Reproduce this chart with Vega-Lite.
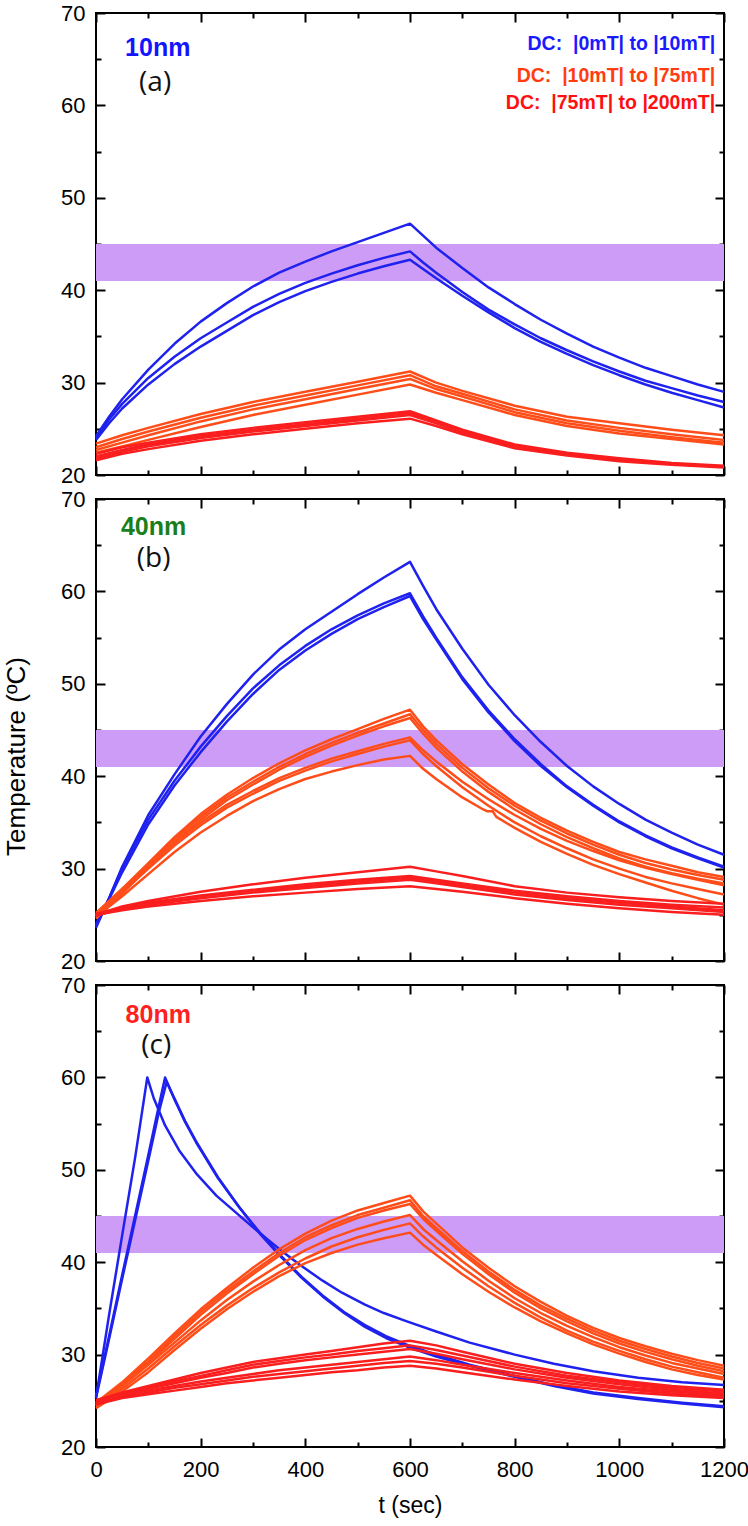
{
"$schema": "https://vega.github.io/schema/vega-lite/v6.json",
"autosize": {"type": "pad"},
"padding": {"left": 2, "top": 1, "right": 4, "bottom": 4},
"background": "white",
"config": {
 "view": {"stroke": "#000", "strokeWidth": 2},
 "axis": {"domain": false, "grid": false, "tickColor": "#000", "tickWidth": 2, "labelFont": "Liberation Sans", "labelFontSize": 22, "labelColor": "#000", "titleFont": "Liberation Sans", "titleFontSize": 22, "titleFontWeight": "normal", "titleColor": "#000", "labelFlush": false, "labelOverlap": false, "labelBound": false}
},
"datasets": {
"a_blue": [
{"run":1,"t":0,"T":24.2},{"run":1,"t":25,"T":26.3},{"run":1,"t":50,"T":28.2},{"run":1,"t":100,"T":31.4},{"run":1,"t":150,"T":34.2},{"run":1,"t":200,"T":36.6},{"run":1,"t":250,"T":38.6},{"run":1,"t":300,"T":40.4},{"run":1,"t":350,"T":41.9},{"run":1,"t":400,"T":43.1},{"run":1,"t":450,"T":44.2},{"run":1,"t":500,"T":45.2},{"run":1,"t":550,"T":46.2},{"run":1,"t":600,"T":47.2},{"run":1,"t":625,"T":45.9},{"run":1,"t":650,"T":44.6},{"run":1,"t":700,"T":42.4},{"run":1,"t":750,"T":40.3},{"run":1,"t":800,"T":38.5},{"run":1,"t":850,"T":36.8},{"run":1,"t":900,"T":35.3},{"run":1,"t":950,"T":33.9},{"run":1,"t":1000,"T":32.7},{"run":1,"t":1050,"T":31.6},{"run":1,"t":1100,"T":30.7},{"run":1,"t":1150,"T":29.8},{"run":1,"t":1200,"T":29.0},
{"run":2,"t":0,"T":24.0},{"run":2,"t":25,"T":26.0},{"run":2,"t":50,"T":27.7},{"run":2,"t":100,"T":30.5},{"run":2,"t":150,"T":32.8},{"run":2,"t":200,"T":34.8},{"run":2,"t":250,"T":36.5},{"run":2,"t":300,"T":38.2},{"run":2,"t":350,"T":39.6},{"run":2,"t":400,"T":40.8},{"run":2,"t":450,"T":41.8},{"run":2,"t":500,"T":42.7},{"run":2,"t":550,"T":43.5},{"run":2,"t":600,"T":44.2},{"run":2,"t":625,"T":43.0},{"run":2,"t":650,"T":41.9},{"run":2,"t":700,"T":39.8},{"run":2,"t":750,"T":37.9},{"run":2,"t":800,"T":36.3},{"run":2,"t":850,"T":34.8},{"run":2,"t":900,"T":33.5},{"run":2,"t":950,"T":32.3},{"run":2,"t":1000,"T":31.2},{"run":2,"t":1050,"T":30.2},{"run":2,"t":1100,"T":29.4},{"run":2,"t":1150,"T":28.6},{"run":2,"t":1200,"T":27.9},
{"run":3,"t":0,"T":23.8},{"run":3,"t":25,"T":25.6},{"run":3,"t":50,"T":27.2},{"run":3,"t":100,"T":29.8},{"run":3,"t":150,"T":32.0},{"run":3,"t":200,"T":33.9},{"run":3,"t":250,"T":35.6},{"run":3,"t":300,"T":37.3},{"run":3,"t":350,"T":38.7},{"run":3,"t":400,"T":39.9},{"run":3,"t":450,"T":40.9},{"run":3,"t":500,"T":41.8},{"run":3,"t":550,"T":42.6},{"run":3,"t":600,"T":43.3},{"run":3,"t":625,"T":42.3},{"run":3,"t":650,"T":41.3},{"run":3,"t":700,"T":39.4},{"run":3,"t":750,"T":37.6},{"run":3,"t":800,"T":35.9},{"run":3,"t":850,"T":34.4},{"run":3,"t":900,"T":33.1},{"run":3,"t":950,"T":31.9},{"run":3,"t":1000,"T":30.8},{"run":3,"t":1050,"T":29.8},{"run":3,"t":1100,"T":28.9},{"run":3,"t":1150,"T":28.1},{"run":3,"t":1200,"T":27.3}
],
"a_orange": [
{"run":1,"t":0,"T":23.4},{"run":1,"t":50,"T":24.3},{"run":1,"t":100,"T":25.1},{"run":1,"t":200,"T":26.6},{"run":1,"t":300,"T":27.9},{"run":1,"t":400,"T":29.0},{"run":1,"t":500,"T":30.1},{"run":1,"t":600,"T":31.2},{"run":1,"t":650,"T":30.0},{"run":1,"t":700,"T":29.1},{"run":1,"t":800,"T":27.5},{"run":1,"t":900,"T":26.3},{"run":1,"t":1000,"T":25.6},{"run":1,"t":1100,"T":24.9},{"run":1,"t":1200,"T":24.3},
{"run":2,"t":0,"T":23.0},{"run":2,"t":50,"T":23.9},{"run":2,"t":100,"T":24.7},{"run":2,"t":200,"T":26.2},{"run":2,"t":300,"T":27.5},{"run":2,"t":400,"T":28.6},{"run":2,"t":500,"T":29.7},{"run":2,"t":600,"T":30.8},{"run":2,"t":650,"T":29.6},{"run":2,"t":700,"T":28.8},{"run":2,"t":800,"T":27.1},{"run":2,"t":900,"T":25.9},{"run":2,"t":1000,"T":25.1},{"run":2,"t":1100,"T":24.4},{"run":2,"t":1200,"T":23.8},
{"run":3,"t":0,"T":22.7},{"run":3,"t":50,"T":23.5},{"run":3,"t":100,"T":24.3},{"run":3,"t":200,"T":25.8},{"run":3,"t":300,"T":27.1},{"run":3,"t":400,"T":28.2},{"run":3,"t":500,"T":29.3},{"run":3,"t":600,"T":30.4},{"run":3,"t":650,"T":29.3},{"run":3,"t":700,"T":28.5},{"run":3,"t":800,"T":26.8},{"run":3,"t":900,"T":25.6},{"run":3,"t":1000,"T":24.8},{"run":3,"t":1100,"T":24.1},{"run":3,"t":1200,"T":23.5},
{"run":4,"t":0,"T":22.4},{"run":4,"t":50,"T":23.1},{"run":4,"t":100,"T":23.8},{"run":4,"t":200,"T":25.2},{"run":4,"t":300,"T":26.5},{"run":4,"t":400,"T":27.6},{"run":4,"t":500,"T":28.7},{"run":4,"t":600,"T":29.8},{"run":4,"t":650,"T":28.9},{"run":4,"t":700,"T":28.1},{"run":4,"t":800,"T":26.5},{"run":4,"t":900,"T":25.3},{"run":4,"t":1000,"T":24.5},{"run":4,"t":1100,"T":23.9},{"run":4,"t":1200,"T":23.3}
],
"a_red": [
{"run":1,"t":0,"T":22.3},{"run":1,"t":50,"T":23.0},{"run":1,"t":100,"T":23.5},{"run":1,"t":200,"T":24.4},{"run":1,"t":300,"T":25.1},{"run":1,"t":400,"T":25.7},{"run":1,"t":500,"T":26.3},{"run":1,"t":600,"T":26.9},{"run":1,"t":650,"T":25.9},{"run":1,"t":700,"T":24.9},{"run":1,"t":800,"T":23.3},{"run":1,"t":900,"T":22.4},{"run":1,"t":1000,"T":21.8},{"run":1,"t":1100,"T":21.3},{"run":1,"t":1200,"T":21.0},
{"run":2,"t":0,"T":22.0},{"run":2,"t":50,"T":22.7},{"run":2,"t":100,"T":23.3},{"run":2,"t":200,"T":24.2},{"run":2,"t":300,"T":24.9},{"run":2,"t":400,"T":25.5},{"run":2,"t":500,"T":26.1},{"run":2,"t":600,"T":26.7},{"run":2,"t":650,"T":25.8},{"run":2,"t":700,"T":24.8},{"run":2,"t":800,"T":23.2},{"run":2,"t":900,"T":22.3},{"run":2,"t":1000,"T":21.7},{"run":2,"t":1100,"T":21.2},{"run":2,"t":1200,"T":20.9},
{"run":3,"t":0,"T":21.8},{"run":3,"t":50,"T":22.5},{"run":3,"t":100,"T":23.1},{"run":3,"t":200,"T":24.0},{"run":3,"t":300,"T":24.7},{"run":3,"t":400,"T":25.3},{"run":3,"t":500,"T":25.9},{"run":3,"t":600,"T":26.5},{"run":3,"t":650,"T":25.6},{"run":3,"t":700,"T":24.6},{"run":3,"t":800,"T":23.1},{"run":3,"t":900,"T":22.2},{"run":3,"t":1000,"T":21.6},{"run":3,"t":1100,"T":21.2},{"run":3,"t":1200,"T":20.9},
{"run":4,"t":0,"T":21.6},{"run":4,"t":50,"T":22.3},{"run":4,"t":100,"T":22.8},{"run":4,"t":200,"T":23.7},{"run":4,"t":300,"T":24.4},{"run":4,"t":400,"T":25.0},{"run":4,"t":500,"T":25.6},{"run":4,"t":600,"T":26.1},{"run":4,"t":650,"T":25.3},{"run":4,"t":700,"T":24.4},{"run":4,"t":800,"T":22.9},{"run":4,"t":900,"T":22.1},{"run":4,"t":1000,"T":21.5},{"run":4,"t":1100,"T":21.1},{"run":4,"t":1200,"T":20.8}
],
"b_blue": [
{"run":1,"t":0,"T":23.6},{"run":1,"t":25,"T":26.8},{"run":1,"t":50,"T":30.2},{"run":1,"t":100,"T":35.8},{"run":1,"t":150,"T":40.2},{"run":1,"t":200,"T":44.3},{"run":1,"t":250,"T":47.8},{"run":1,"t":300,"T":51.0},{"run":1,"t":350,"T":53.7},{"run":1,"t":400,"T":55.9},{"run":1,"t":450,"T":57.8},{"run":1,"t":500,"T":59.7},{"run":1,"t":550,"T":61.5},{"run":1,"t":600,"T":63.2},{"run":1,"t":625,"T":60.6},{"run":1,"t":650,"T":58.1},{"run":1,"t":700,"T":53.8},{"run":1,"t":750,"T":49.9},{"run":1,"t":800,"T":46.6},{"run":1,"t":850,"T":43.7},{"run":1,"t":900,"T":41.1},{"run":1,"t":950,"T":38.9},{"run":1,"t":1000,"T":37.0},{"run":1,"t":1050,"T":35.3},{"run":1,"t":1100,"T":33.9},{"run":1,"t":1150,"T":32.6},{"run":1,"t":1200,"T":31.5},
{"run":2,"t":0,"T":23.8},{"run":2,"t":25,"T":26.8},{"run":2,"t":50,"T":30.0},{"run":2,"t":100,"T":35.3},{"run":2,"t":150,"T":39.5},{"run":2,"t":200,"T":43.2},{"run":2,"t":250,"T":46.5},{"run":2,"t":300,"T":49.5},{"run":2,"t":350,"T":52.0},{"run":2,"t":400,"T":54.1},{"run":2,"t":450,"T":55.9},{"run":2,"t":500,"T":57.4},{"run":2,"t":550,"T":58.7},{"run":2,"t":600,"T":59.8},{"run":2,"t":625,"T":57.3},{"run":2,"t":650,"T":55.0},{"run":2,"t":700,"T":50.7},{"run":2,"t":750,"T":47.1},{"run":2,"t":800,"T":44.0},{"run":2,"t":850,"T":41.3},{"run":2,"t":900,"T":38.9},{"run":2,"t":950,"T":36.9},{"run":2,"t":1000,"T":35.1},{"run":2,"t":1050,"T":33.6},{"run":2,"t":1100,"T":32.3},{"run":2,"t":1150,"T":31.2},{"run":2,"t":1200,"T":30.2},
{"run":3,"t":0,"T":24.0},{"run":3,"t":25,"T":26.7},{"run":3,"t":50,"T":29.6},{"run":3,"t":100,"T":34.8},{"run":3,"t":150,"T":39.0},{"run":3,"t":200,"T":42.6},{"run":3,"t":250,"T":45.9},{"run":3,"t":300,"T":48.9},{"run":3,"t":350,"T":51.5},{"run":3,"t":400,"T":53.6},{"run":3,"t":450,"T":55.4},{"run":3,"t":500,"T":57.0},{"run":3,"t":550,"T":58.3},{"run":3,"t":600,"T":59.5},{"run":3,"t":625,"T":57.0},{"run":3,"t":650,"T":54.8},{"run":3,"t":700,"T":50.5},{"run":3,"t":750,"T":46.9},{"run":3,"t":800,"T":43.8},{"run":3,"t":850,"T":41.1},{"run":3,"t":900,"T":38.8},{"run":3,"t":950,"T":36.8},{"run":3,"t":1000,"T":35.0},{"run":3,"t":1050,"T":33.5},{"run":3,"t":1100,"T":32.2},{"run":3,"t":1150,"T":31.1},{"run":3,"t":1200,"T":30.1}
],
"b_orange": [
{"run":1,"t":0,"T":25.0},{"run":1,"t":50,"T":27.8},{"run":1,"t":100,"T":30.6},{"run":1,"t":150,"T":33.4},{"run":1,"t":200,"T":35.9},{"run":1,"t":250,"T":38.0},{"run":1,"t":300,"T":39.8},{"run":1,"t":350,"T":41.4},{"run":1,"t":400,"T":42.8},{"run":1,"t":450,"T":44.0},{"run":1,"t":500,"T":45.1},{"run":1,"t":550,"T":46.2},{"run":1,"t":600,"T":47.2},{"run":1,"t":625,"T":45.4},{"run":1,"t":650,"T":43.9},{"run":1,"t":700,"T":41.3},{"run":1,"t":750,"T":39.1},{"run":1,"t":800,"T":37.1},{"run":1,"t":850,"T":35.5},{"run":1,"t":900,"T":34.1},{"run":1,"t":950,"T":32.9},{"run":1,"t":1000,"T":31.8},{"run":1,"t":1050,"T":31.0},{"run":1,"t":1100,"T":30.3},{"run":1,"t":1150,"T":29.6},{"run":1,"t":1200,"T":29.1},
{"run":2,"t":0,"T":24.8},{"run":2,"t":50,"T":27.6},{"run":2,"t":100,"T":30.4},{"run":2,"t":150,"T":33.2},{"run":2,"t":200,"T":35.6},{"run":2,"t":250,"T":37.7},{"run":2,"t":300,"T":39.4},{"run":2,"t":350,"T":41.0},{"run":2,"t":400,"T":42.4},{"run":2,"t":450,"T":43.6},{"run":2,"t":500,"T":44.7},{"run":2,"t":550,"T":45.7},{"run":2,"t":600,"T":46.7},{"run":2,"t":625,"T":45.0},{"run":2,"t":650,"T":43.5},{"run":2,"t":700,"T":40.9},{"run":2,"t":750,"T":38.7},{"run":2,"t":800,"T":36.8},{"run":2,"t":850,"T":35.2},{"run":2,"t":900,"T":33.8},{"run":2,"t":950,"T":32.6},{"run":2,"t":1000,"T":31.5},{"run":2,"t":1050,"T":30.6},{"run":2,"t":1100,"T":29.9},{"run":2,"t":1150,"T":29.3},{"run":2,"t":1200,"T":28.8},
{"run":3,"t":0,"T":24.6},{"run":3,"t":50,"T":27.3},{"run":3,"t":100,"T":30.1},{"run":3,"t":150,"T":32.9},{"run":3,"t":200,"T":35.3},{"run":3,"t":250,"T":37.4},{"run":3,"t":300,"T":39.1},{"run":3,"t":350,"T":40.7},{"run":3,"t":400,"T":42.1},{"run":3,"t":450,"T":43.3},{"run":3,"t":500,"T":44.4},{"run":3,"t":550,"T":45.4},{"run":3,"t":600,"T":46.3},{"run":3,"t":625,"T":44.6},{"run":3,"t":650,"T":43.1},{"run":3,"t":700,"T":40.5},{"run":3,"t":750,"T":38.3},{"run":3,"t":800,"T":36.4},{"run":3,"t":850,"T":34.8},{"run":3,"t":900,"T":33.4},{"run":3,"t":950,"T":32.2},{"run":3,"t":1000,"T":31.1},{"run":3,"t":1050,"T":30.2},{"run":3,"t":1100,"T":29.5},{"run":3,"t":1150,"T":28.9},{"run":3,"t":1200,"T":28.4},
{"run":4,"t":0,"T":25.2},{"run":4,"t":50,"T":27.8},{"run":4,"t":100,"T":30.3},{"run":4,"t":150,"T":32.8},{"run":4,"t":200,"T":35.0},{"run":4,"t":250,"T":36.9},{"run":4,"t":300,"T":38.4},{"run":4,"t":350,"T":39.8},{"run":4,"t":400,"T":40.9},{"run":4,"t":450,"T":41.9},{"run":4,"t":500,"T":42.7},{"run":4,"t":550,"T":43.5},{"run":4,"t":600,"T":44.2},{"run":4,"t":625,"T":42.8},{"run":4,"t":650,"T":41.6},{"run":4,"t":700,"T":39.4},{"run":4,"t":750,"T":37.5},{"run":4,"t":800,"T":35.8},{"run":4,"t":850,"T":34.3},{"run":4,"t":900,"T":33.0},{"run":4,"t":950,"T":31.9},{"run":4,"t":1000,"T":30.9},{"run":4,"t":1050,"T":30.1},{"run":4,"t":1100,"T":29.4},{"run":4,"t":1150,"T":28.8},{"run":4,"t":1200,"T":28.2},
{"run":5,"t":0,"T":25.0},{"run":5,"t":50,"T":27.5},{"run":5,"t":100,"T":30.0},{"run":5,"t":150,"T":32.5},{"run":5,"t":200,"T":34.7},{"run":5,"t":250,"T":36.6},{"run":5,"t":300,"T":38.1},{"run":5,"t":350,"T":39.5},{"run":5,"t":400,"T":40.6},{"run":5,"t":450,"T":41.6},{"run":5,"t":500,"T":42.4},{"run":5,"t":550,"T":43.2},{"run":5,"t":600,"T":43.9},{"run":5,"t":625,"T":42.4},{"run":5,"t":650,"T":41.1},{"run":5,"t":700,"T":38.8},{"run":5,"t":750,"T":36.8},{"run":5,"t":800,"T":35.0},{"run":5,"t":850,"T":33.5},{"run":5,"t":900,"T":32.2},{"run":5,"t":950,"T":31.0},{"run":5,"t":1000,"T":30.0},{"run":5,"t":1050,"T":29.1},{"run":5,"t":1100,"T":28.4},{"run":5,"t":1150,"T":27.8},{"run":5,"t":1200,"T":27.2},
{"run":6,"t":0,"T":24.8},{"run":6,"t":50,"T":27.0},{"run":6,"t":100,"T":29.4},{"run":6,"t":150,"T":31.8},{"run":6,"t":200,"T":33.9},{"run":6,"t":250,"T":35.7},{"run":6,"t":300,"T":37.3},{"run":6,"t":350,"T":38.6},{"run":6,"t":400,"T":39.7},{"run":6,"t":450,"T":40.5},{"run":6,"t":500,"T":41.2},{"run":6,"t":550,"T":41.8},{"run":6,"t":600,"T":42.2},{"run":6,"t":625,"T":40.8},{"run":6,"t":650,"T":39.7},{"run":6,"t":700,"T":37.7},{"run":6,"t":740,"T":36.4},{"run":6,"t":748,"T":36.2},{"run":6,"t":758,"T":36.2},{"run":6,"t":765,"T":35.6},{"run":6,"t":800,"T":34.4},{"run":6,"t":850,"T":32.9},{"run":6,"t":900,"T":31.6},{"run":6,"t":950,"T":30.4},{"run":6,"t":1000,"T":29.4},{"run":6,"t":1050,"T":28.5},{"run":6,"t":1100,"T":27.6},{"run":6,"t":1150,"T":26.8},{"run":6,"t":1200,"T":26.1}
],
"b_red": [
{"run":1,"t":0,"T":25.0},{"run":1,"t":50,"T":25.9},{"run":1,"t":100,"T":26.5},{"run":1,"t":200,"T":27.5},{"run":1,"t":300,"T":28.3},{"run":1,"t":400,"T":29.0},{"run":1,"t":500,"T":29.6},{"run":1,"t":600,"T":30.2},{"run":1,"t":650,"T":29.7},{"run":1,"t":700,"T":29.2},{"run":1,"t":800,"T":28.1},{"run":1,"t":900,"T":27.4},{"run":1,"t":1000,"T":26.9},{"run":1,"t":1100,"T":26.5},{"run":1,"t":1200,"T":26.2},
{"run":2,"t":0,"T":25.1},{"run":2,"t":50,"T":25.8},{"run":2,"t":100,"T":26.3},{"run":2,"t":200,"T":27.1},{"run":2,"t":300,"T":27.7},{"run":2,"t":400,"T":28.3},{"run":2,"t":500,"T":28.8},{"run":2,"t":600,"T":29.2},{"run":2,"t":650,"T":28.8},{"run":2,"t":700,"T":28.4},{"run":2,"t":800,"T":27.6},{"run":2,"t":900,"T":27.0},{"run":2,"t":1000,"T":26.5},{"run":2,"t":1100,"T":26.1},{"run":2,"t":1200,"T":25.8},
{"run":3,"t":0,"T":24.9},{"run":3,"t":50,"T":25.7},{"run":3,"t":100,"T":26.2},{"run":3,"t":200,"T":27.0},{"run":3,"t":300,"T":27.6},{"run":3,"t":400,"T":28.1},{"run":3,"t":500,"T":28.6},{"run":3,"t":600,"T":29.0},{"run":3,"t":650,"T":28.6},{"run":3,"t":700,"T":28.2},{"run":3,"t":800,"T":27.4},{"run":3,"t":900,"T":26.8},{"run":3,"t":1000,"T":26.3},{"run":3,"t":1100,"T":25.9},{"run":3,"t":1200,"T":25.5},
{"run":4,"t":0,"T":25.0},{"run":4,"t":50,"T":25.6},{"run":4,"t":100,"T":26.1},{"run":4,"t":200,"T":26.8},{"run":4,"t":300,"T":27.4},{"run":4,"t":400,"T":27.9},{"run":4,"t":500,"T":28.4},{"run":4,"t":600,"T":28.8},{"run":4,"t":650,"T":28.4},{"run":4,"t":700,"T":28.0},{"run":4,"t":800,"T":27.2},{"run":4,"t":900,"T":26.6},{"run":4,"t":1000,"T":26.1},{"run":4,"t":1100,"T":25.7},{"run":4,"t":1200,"T":25.3},
{"run":5,"t":0,"T":25.0},{"run":5,"t":50,"T":25.5},{"run":5,"t":100,"T":25.9},{"run":5,"t":200,"T":26.5},{"run":5,"t":300,"T":27.0},{"run":5,"t":400,"T":27.4},{"run":5,"t":500,"T":27.8},{"run":5,"t":600,"T":28.1},{"run":5,"t":650,"T":27.8},{"run":5,"t":700,"T":27.5},{"run":5,"t":800,"T":26.8},{"run":5,"t":900,"T":26.2},{"run":5,"t":1000,"T":25.7},{"run":5,"t":1100,"T":25.3},{"run":5,"t":1200,"T":25.0}
],
"c_blue": [
{"run":1,"t":0,"T":25.3},{"run":1,"t":25,"T":34.3},{"run":1,"t":50,"T":42.9},{"run":1,"t":75,"T":51.4},{"run":1,"t":98,"T":60.0},{"run":1,"t":110,"T":57.8},{"run":1,"t":132,"T":54.8},{"run":1,"t":160,"T":52.0},{"run":1,"t":193,"T":49.5},{"run":1,"t":230,"T":47.2},{"run":1,"t":273,"T":45.1},{"run":1,"t":310,"T":43.3},{"run":1,"t":353,"T":41.3},{"run":1,"t":390,"T":39.7},{"run":1,"t":433,"T":38.0},{"run":1,"t":470,"T":36.7},{"run":1,"t":514,"T":35.4},{"run":1,"t":550,"T":34.5},{"run":1,"t":594,"T":33.6},{"run":1,"t":650,"T":32.5},{"run":1,"t":714,"T":31.3},{"run":1,"t":800,"T":30.0},{"run":1,"t":875,"T":29.0},{"run":1,"t":950,"T":28.2},{"run":1,"t":1036,"T":27.5},{"run":1,"t":1120,"T":27.0},{"run":1,"t":1200,"T":26.7},
{"run":2,"t":0,"T":25.5},{"run":2,"t":25,"T":32.0},{"run":2,"t":50,"T":38.6},{"run":2,"t":75,"T":45.1},{"run":2,"t":100,"T":51.6},{"run":2,"t":120,"T":56.9},{"run":2,"t":132,"T":60.0},{"run":2,"t":150,"T":57.6},{"run":2,"t":170,"T":55.2},{"run":2,"t":193,"T":52.8},{"run":2,"t":233,"T":49.1},{"run":2,"t":273,"T":46.0},{"run":2,"t":313,"T":43.2},{"run":2,"t":353,"T":40.7},{"run":2,"t":393,"T":38.4},{"run":2,"t":433,"T":36.4},{"run":2,"t":474,"T":34.6},{"run":2,"t":514,"T":33.2},{"run":2,"t":554,"T":32.0},{"run":2,"t":602,"T":30.9},{"run":2,"t":650,"T":30.0},{"run":2,"t":714,"T":28.9},{"run":2,"t":800,"T":27.7},{"run":2,"t":875,"T":26.7},{"run":2,"t":950,"T":25.9},{"run":2,"t":1036,"T":25.3},{"run":2,"t":1120,"T":24.8},{"run":2,"t":1200,"T":24.4},
{"run":3,"t":0,"T":25.3},{"run":3,"t":25,"T":31.7},{"run":3,"t":50,"T":38.2},{"run":3,"t":75,"T":44.6},{"run":3,"t":100,"T":51.0},{"run":3,"t":120,"T":56.2},{"run":3,"t":135,"T":59.5},{"run":3,"t":150,"T":57.7},{"run":3,"t":170,"T":55.3},{"run":3,"t":193,"T":52.9},{"run":3,"t":233,"T":49.2},{"run":3,"t":273,"T":46.0},{"run":3,"t":313,"T":43.1},{"run":3,"t":353,"T":40.6},{"run":3,"t":393,"T":38.3},{"run":3,"t":433,"T":36.3},{"run":3,"t":474,"T":34.5},{"run":3,"t":514,"T":33.0},{"run":3,"t":554,"T":31.8},{"run":3,"t":602,"T":30.7},{"run":3,"t":650,"T":29.8},{"run":3,"t":714,"T":28.8},{"run":3,"t":800,"T":27.6},{"run":3,"t":875,"T":26.6},{"run":3,"t":950,"T":25.8},{"run":3,"t":1036,"T":25.2},{"run":3,"t":1120,"T":24.7},{"run":3,"t":1200,"T":24.3}
],
"c_orange": [
{"run":1,"t":0,"T":24.8},{"run":1,"t":50,"T":27.0},{"run":1,"t":100,"T":29.6},{"run":1,"t":150,"T":32.3},{"run":1,"t":200,"T":34.9},{"run":1,"t":250,"T":37.2},{"run":1,"t":300,"T":39.4},{"run":1,"t":350,"T":41.4},{"run":1,"t":400,"T":43.1},{"run":1,"t":450,"T":44.5},{"run":1,"t":500,"T":45.6},{"run":1,"t":550,"T":46.4},{"run":1,"t":600,"T":47.2},{"run":1,"t":625,"T":45.5},{"run":1,"t":650,"T":44.2},{"run":1,"t":700,"T":41.6},{"run":1,"t":750,"T":39.4},{"run":1,"t":800,"T":37.4},{"run":1,"t":850,"T":35.7},{"run":1,"t":900,"T":34.2},{"run":1,"t":950,"T":32.9},{"run":1,"t":1000,"T":31.8},{"run":1,"t":1050,"T":30.9},{"run":1,"t":1100,"T":30.1},{"run":1,"t":1150,"T":29.4},{"run":1,"t":1200,"T":28.8},
{"run":2,"t":0,"T":24.6},{"run":2,"t":50,"T":26.8},{"run":2,"t":100,"T":29.3},{"run":2,"t":150,"T":32.0},{"run":2,"t":200,"T":34.6},{"run":2,"t":250,"T":36.9},{"run":2,"t":300,"T":39.0},{"run":2,"t":350,"T":41.0},{"run":2,"t":400,"T":42.7},{"run":2,"t":450,"T":44.0},{"run":2,"t":500,"T":45.1},{"run":2,"t":550,"T":45.9},{"run":2,"t":600,"T":46.7},{"run":2,"t":625,"T":45.0},{"run":2,"t":650,"T":43.7},{"run":2,"t":700,"T":41.2},{"run":2,"t":750,"T":39.0},{"run":2,"t":800,"T":37.0},{"run":2,"t":850,"T":35.3},{"run":2,"t":900,"T":33.9},{"run":2,"t":950,"T":32.6},{"run":2,"t":1000,"T":31.5},{"run":2,"t":1050,"T":30.6},{"run":2,"t":1100,"T":29.8},{"run":2,"t":1150,"T":29.1},{"run":2,"t":1200,"T":28.5},
{"run":3,"t":0,"T":24.5},{"run":3,"t":50,"T":26.6},{"run":3,"t":100,"T":29.1},{"run":3,"t":150,"T":31.7},{"run":3,"t":200,"T":34.3},{"run":3,"t":250,"T":36.6},{"run":3,"t":300,"T":38.7},{"run":3,"t":350,"T":40.7},{"run":3,"t":400,"T":42.4},{"run":3,"t":450,"T":43.7},{"run":3,"t":500,"T":44.8},{"run":3,"t":550,"T":45.6},{"run":3,"t":600,"T":46.3},{"run":3,"t":625,"T":44.7},{"run":3,"t":650,"T":43.4},{"run":3,"t":700,"T":40.9},{"run":3,"t":750,"T":38.7},{"run":3,"t":800,"T":36.7},{"run":3,"t":850,"T":35.0},{"run":3,"t":900,"T":33.6},{"run":3,"t":950,"T":32.3},{"run":3,"t":1000,"T":31.2},{"run":3,"t":1050,"T":30.3},{"run":3,"t":1100,"T":29.5},{"run":3,"t":1150,"T":28.8},{"run":3,"t":1200,"T":28.2},
{"run":4,"t":0,"T":24.7},{"run":4,"t":50,"T":26.6},{"run":4,"t":100,"T":28.9},{"run":4,"t":150,"T":31.3},{"run":4,"t":200,"T":33.7},{"run":4,"t":250,"T":35.9},{"run":4,"t":300,"T":37.9},{"run":4,"t":350,"T":39.7},{"run":4,"t":400,"T":41.3},{"run":4,"t":450,"T":42.6},{"run":4,"t":500,"T":43.6},{"run":4,"t":550,"T":44.4},{"run":4,"t":600,"T":45.1},{"run":4,"t":625,"T":43.6},{"run":4,"t":650,"T":42.4},{"run":4,"t":700,"T":40.1},{"run":4,"t":750,"T":38.0},{"run":4,"t":800,"T":36.1},{"run":4,"t":850,"T":34.5},{"run":4,"t":900,"T":33.1},{"run":4,"t":950,"T":31.9},{"run":4,"t":1000,"T":30.8},{"run":4,"t":1050,"T":29.9},{"run":4,"t":1100,"T":29.1},{"run":4,"t":1150,"T":28.5},{"run":4,"t":1200,"T":27.9},
{"run":5,"t":0,"T":24.4},{"run":5,"t":50,"T":26.3},{"run":5,"t":100,"T":28.5},{"run":5,"t":150,"T":30.9},{"run":5,"t":200,"T":33.2},{"run":5,"t":250,"T":35.3},{"run":5,"t":300,"T":37.2},{"run":5,"t":350,"T":38.9},{"run":5,"t":400,"T":40.4},{"run":5,"t":450,"T":41.7},{"run":5,"t":500,"T":42.7},{"run":5,"t":550,"T":43.5},{"run":5,"t":600,"T":44.2},{"run":5,"t":625,"T":42.8},{"run":5,"t":650,"T":41.6},{"run":5,"t":700,"T":39.4},{"run":5,"t":750,"T":37.4},{"run":5,"t":800,"T":35.6},{"run":5,"t":850,"T":34.0},{"run":5,"t":900,"T":32.6},{"run":5,"t":950,"T":31.4},{"run":5,"t":1000,"T":30.4},{"run":5,"t":1050,"T":29.5},{"run":5,"t":1100,"T":28.7},{"run":5,"t":1150,"T":28.1},{"run":5,"t":1200,"T":27.5},
{"run":6,"t":0,"T":24.2},{"run":6,"t":50,"T":26.0},{"run":6,"t":100,"T":28.1},{"run":6,"t":150,"T":30.5},{"run":6,"t":200,"T":32.8},{"run":6,"t":250,"T":34.9},{"run":6,"t":300,"T":36.8},{"run":6,"t":350,"T":38.5},{"run":6,"t":400,"T":39.9},{"run":6,"t":450,"T":41.0},{"run":6,"t":500,"T":41.9},{"run":6,"t":550,"T":42.6},{"run":6,"t":600,"T":43.2},{"run":6,"t":625,"T":41.9},{"run":6,"t":650,"T":40.8},{"run":6,"t":700,"T":38.7},{"run":6,"t":750,"T":36.8},{"run":6,"t":800,"T":35.1},{"run":6,"t":850,"T":33.6},{"run":6,"t":900,"T":32.3},{"run":6,"t":950,"T":31.1},{"run":6,"t":1000,"T":30.1},{"run":6,"t":1050,"T":29.2},{"run":6,"t":1100,"T":28.4},{"run":6,"t":1150,"T":27.8},{"run":6,"t":1200,"T":27.3}
],
"c_red": [
{"run":1,"t":0,"T":25.0},{"run":1,"t":50,"T":25.9},{"run":1,"t":100,"T":26.6},{"run":1,"t":150,"T":27.3},{"run":1,"t":200,"T":28.0},{"run":1,"t":250,"T":28.6},{"run":1,"t":300,"T":29.2},{"run":1,"t":350,"T":29.6},{"run":1,"t":400,"T":30.0},{"run":1,"t":450,"T":30.4},{"run":1,"t":500,"T":30.8},{"run":1,"t":550,"T":31.2},{"run":1,"t":600,"T":31.5},{"run":1,"t":650,"T":31.0},{"run":1,"t":700,"T":30.3},{"run":1,"t":800,"T":29.0},{"run":1,"t":900,"T":28.0},{"run":1,"t":1000,"T":27.2},{"run":1,"t":1100,"T":26.6},{"run":1,"t":1200,"T":26.2},
{"run":2,"t":0,"T":25.1},{"run":2,"t":50,"T":25.8},{"run":2,"t":100,"T":26.4},{"run":2,"t":150,"T":27.1},{"run":2,"t":200,"T":27.7},{"run":2,"t":250,"T":28.3},{"run":2,"t":300,"T":28.9},{"run":2,"t":350,"T":29.3},{"run":2,"t":400,"T":29.7},{"run":2,"t":450,"T":30.0},{"run":2,"t":500,"T":30.4},{"run":2,"t":550,"T":30.7},{"run":2,"t":600,"T":31.0},{"run":2,"t":650,"T":30.5},{"run":2,"t":700,"T":29.9},{"run":2,"t":800,"T":28.7},{"run":2,"t":900,"T":27.7},{"run":2,"t":1000,"T":27.0},{"run":2,"t":1100,"T":26.4},{"run":2,"t":1200,"T":26.0},
{"run":3,"t":0,"T":24.9},{"run":3,"t":50,"T":25.7},{"run":3,"t":100,"T":26.3},{"run":3,"t":150,"T":26.9},{"run":3,"t":200,"T":27.5},{"run":3,"t":250,"T":28.0},{"run":3,"t":300,"T":28.6},{"run":3,"t":350,"T":29.0},{"run":3,"t":400,"T":29.4},{"run":3,"t":450,"T":29.7},{"run":3,"t":500,"T":30.0},{"run":3,"t":550,"T":30.3},{"run":3,"t":600,"T":30.6},{"run":3,"t":650,"T":30.1},{"run":3,"t":700,"T":29.5},{"run":3,"t":800,"T":28.4},{"run":3,"t":900,"T":27.5},{"run":3,"t":1000,"T":26.8},{"run":3,"t":1100,"T":26.2},{"run":3,"t":1200,"T":25.8},
{"run":4,"t":0,"T":25.0},{"run":4,"t":50,"T":25.6},{"run":4,"t":100,"T":26.1},{"run":4,"t":150,"T":26.6},{"run":4,"t":200,"T":27.1},{"run":4,"t":250,"T":27.5},{"run":4,"t":300,"T":27.9},{"run":4,"t":350,"T":28.3},{"run":4,"t":400,"T":28.6},{"run":4,"t":450,"T":28.9},{"run":4,"t":500,"T":29.2},{"run":4,"t":550,"T":29.5},{"run":4,"t":600,"T":29.8},{"run":4,"t":650,"T":29.4},{"run":4,"t":700,"T":28.9},{"run":4,"t":800,"T":28.0},{"run":4,"t":900,"T":27.2},{"run":4,"t":1000,"T":26.5},{"run":4,"t":1100,"T":26.0},{"run":4,"t":1200,"T":25.6},
{"run":5,"t":0,"T":24.8},{"run":5,"t":50,"T":25.4},{"run":5,"t":100,"T":25.9},{"run":5,"t":150,"T":26.4},{"run":5,"t":200,"T":26.8},{"run":5,"t":250,"T":27.2},{"run":5,"t":300,"T":27.6},{"run":5,"t":350,"T":27.9},{"run":5,"t":400,"T":28.2},{"run":5,"t":450,"T":28.5},{"run":5,"t":500,"T":28.8},{"run":5,"t":550,"T":29.1},{"run":5,"t":600,"T":29.3},{"run":5,"t":650,"T":29.0},{"run":5,"t":700,"T":28.6},{"run":5,"t":800,"T":27.7},{"run":5,"t":900,"T":26.9},{"run":5,"t":1000,"T":26.3},{"run":5,"t":1100,"T":25.8},{"run":5,"t":1200,"T":25.4},
{"run":6,"t":0,"T":24.6},{"run":6,"t":50,"T":25.3},{"run":6,"t":100,"T":25.7},{"run":6,"t":150,"T":26.1},{"run":6,"t":200,"T":26.5},{"run":6,"t":250,"T":26.9},{"run":6,"t":300,"T":27.2},{"run":6,"t":350,"T":27.5},{"run":6,"t":400,"T":27.8},{"run":6,"t":450,"T":28.1},{"run":6,"t":500,"T":28.3},{"run":6,"t":550,"T":28.6},{"run":6,"t":600,"T":28.8},{"run":6,"t":650,"T":28.5},{"run":6,"t":700,"T":28.1},{"run":6,"t":800,"T":27.3},{"run":6,"t":900,"T":26.6},{"run":6,"t":1000,"T":26.0},{"run":6,"t":1100,"T":25.6},{"run":6,"t":1200,"T":25.3}
]
},
"vconcat": [
{
 "width": 628, "height": 462,
 "resolve": {"axis": {"x": "independent", "y": "independent"}},
 "layer": [
  {"data": {"values": [{"lo": 41, "hi": 45}]}, "mark": {"type": "rect", "fill": "#cd9cf7"},
   "encoding": {"x": {"datum": 0, "type": "quantitative", "axis": null}, "x2": {"datum": 1200}, "y": {"field": "lo", "type": "quantitative", "axis": null}, "y2": {"field": "hi"}}},
  {"data": {"name": "a_blue"}, "mark": {"type": "line", "color": "#1f22ee", "strokeWidth": 2.5, "strokeJoin": "round"},
   "encoding": {
    "x": {"field": "t", "type": "quantitative", "scale": {"domain": [0, 1200], "nice": false, "zero": false},
      "axis": {"orient": "bottom", "values": [0,200,400,600,800,1000,1200], "labels": false, "title": null, "tickSize": -9}},
    "y": {"field": "T", "type": "quantitative", "scale": {"domain": [20, 70], "nice": false, "zero": false},
      "axis": {"orient": "left", "values": [20,30,40,50,60,70], "labelPadding": 20, "title": null, "tickSize": -9}},
    "detail": {"field": "run", "type": "nominal"}}},
  {"data": {"name": "a_orange"}, "mark": {"type": "line", "color": "#ff4d1a", "strokeWidth": 2.5, "strokeJoin": "round"},
   "encoding": {
    "x": {"field": "t", "type": "quantitative", "axis": {"orient": "top", "values": [0,200,400,600,800,1000,1200], "labels": false, "title": null, "tickSize": -9}},
    "y": {"field": "T", "type": "quantitative", "axis": {"orient": "right", "values": [20,30,40,50,60,70], "labels": false, "title": null, "tickSize": -9}},
    "detail": {"field": "run", "type": "nominal"}}},
  {"data": {"name": "a_red"}, "mark": {"type": "line", "color": "#fa1e1e", "strokeWidth": 2.5, "strokeJoin": "round"},
   "encoding": {
    "x": {"field": "t", "type": "quantitative", "axis": {"orient": "bottom", "values": [100,300,500,700,900,1100], "labels": false, "title": null, "tickSize": -5}},
    "y": {"field": "T", "type": "quantitative", "axis": {"orient": "left", "values": [25,35,45,55,65], "labels": false, "title": null, "tickSize": -5}},
    "detail": {"field": "run", "type": "nominal"}}},
  {"data": {"values": [{"label": "10nm", "t": 118, "T": 66.2}]}, "mark": {"type": "text", "font": "Liberation Sans", "fontWeight": "bold", "fontSize": 25, "color": "#1414ff", "align": "center", "baseline": "middle"},
   "encoding": {
    "x": {"field": "t", "type": "quantitative", "axis": {"orient": "top", "values": [100,300,500,700,900,1100], "labels": false, "title": null, "tickSize": -5}},
    "y": {"field": "T", "type": "quantitative", "axis": {"orient": "right", "values": [25,35,45,55,65], "labels": false, "title": null, "tickSize": -5}},
    "text": {"field": "label"}}},
  {"data": {"values": [{"label": "(a)", "t": 113, "T": 62.4}]}, "mark": {"type": "text", "font": "Open Sans", "fontSize": 28, "color": "#111", "align": "center", "baseline": "middle"},
   "encoding": {"x": {"field": "t", "type": "quantitative", "axis": null}, "y": {"field": "T", "type": "quantitative", "axis": null}, "text": {"field": "label"}}},
  {"data": {"values": [{"label": "DC:\u00a0 |0mT| to |10mT|", "g": "b", "t": 1183, "T": 66.6}, {"label": "DC:\u00a0 |10mT| to |75mT|", "g": "o", "t": 1183, "T": 63.2}, {"label": "DC:\u00a0 |75mT| to |200mT|", "g": "r", "t": 1183, "T": 60.3}]},
   "mark": {"type": "text", "font": "Liberation Sans", "fontWeight": "bold", "fontSize": 19.5, "align": "right", "baseline": "middle"},
   "encoding": {"x": {"field": "t", "type": "quantitative", "axis": null}, "y": {"field": "T", "type": "quantitative", "axis": null}, "text": {"field": "label"},
    "color": {"field": "g", "type": "nominal", "scale": {"domain": ["b", "o", "r"], "range": ["#1a1aff", "#ff3d0f", "#ff1010"]}, "legend": null}}}
 ]
},
{
 "width": 628, "height": 462,
 "resolve": {"axis": {"x": "independent", "y": "independent"}},
 "layer": [
  {"data": {"values": [{"lo": 41, "hi": 45}]}, "mark": {"type": "rect", "fill": "#cd9cf7"},
   "encoding": {"x": {"datum": 0, "type": "quantitative", "axis": null}, "x2": {"datum": 1200}, "y": {"field": "lo", "type": "quantitative", "axis": null}, "y2": {"field": "hi"}}},
  {"data": {"name": "b_blue"}, "mark": {"type": "line", "color": "#1f22ee", "strokeWidth": 2.5, "strokeJoin": "round"},
   "encoding": {
    "x": {"field": "t", "type": "quantitative", "scale": {"domain": [0, 1200], "nice": false, "zero": false},
      "axis": {"orient": "bottom", "values": [0,200,400,600,800,1000,1200], "labels": false, "title": null, "tickSize": -9}},
    "y": {"field": "T", "type": "quantitative", "scale": {"domain": [20, 70], "nice": false, "zero": false},
      "axis": {"orient": "left", "values": [20,30,40,50,60,70], "labelPadding": 20, "title": "Temperature (ºC)", "titleFontSize": 26, "titleX": -72, "titleY": 257, "titleAngle": 270, "titleBaseline": "alphabetic", "titleAlign": "center", "tickSize": -9}},
    "detail": {"field": "run", "type": "nominal"}}},
  {"data": {"name": "b_orange"}, "mark": {"type": "line", "color": "#ff4d1a", "strokeWidth": 2.5, "strokeJoin": "round"},
   "encoding": {
    "x": {"field": "t", "type": "quantitative", "axis": {"orient": "top", "values": [0,200,400,600,800,1000,1200], "labels": false, "title": null, "tickSize": -9}},
    "y": {"field": "T", "type": "quantitative", "axis": {"orient": "right", "values": [20,30,40,50,60,70], "labels": false, "title": null, "tickSize": -9}},
    "detail": {"field": "run", "type": "nominal"}}},
  {"data": {"name": "b_red"}, "mark": {"type": "line", "color": "#fa1e1e", "strokeWidth": 2.5, "strokeJoin": "round"},
   "encoding": {
    "x": {"field": "t", "type": "quantitative", "axis": {"orient": "bottom", "values": [100,300,500,700,900,1100], "labels": false, "title": null, "tickSize": -5}},
    "y": {"field": "T", "type": "quantitative", "axis": {"orient": "left", "values": [25,35,45,55,65], "labels": false, "title": null, "tickSize": -5}},
    "detail": {"field": "run", "type": "nominal"}}},
  {"data": {"values": [{"label": "40nm", "t": 110, "T": 67.0}]}, "mark": {"type": "text", "font": "Liberation Sans", "fontWeight": "bold", "fontSize": 25, "color": "#1a7f1a", "align": "center", "baseline": "middle"},
   "encoding": {
    "x": {"field": "t", "type": "quantitative", "axis": {"orient": "top", "values": [100,300,500,700,900,1100], "labels": false, "title": null, "tickSize": -5}},
    "y": {"field": "T", "type": "quantitative", "axis": {"orient": "right", "values": [25,35,45,55,65], "labels": false, "title": null, "tickSize": -5}},
    "text": {"field": "label"}}},
  {"data": {"values": [{"label": "(b)", "t": 110, "T": 63.5}]}, "mark": {"type": "text", "font": "Open Sans", "fontSize": 28, "color": "#111", "align": "center", "baseline": "middle"},
   "encoding": {"x": {"field": "t", "type": "quantitative", "axis": null}, "y": {"field": "T", "type": "quantitative", "axis": null}, "text": {"field": "label"}}}
 ]
},
{
 "width": 628, "height": 462,
 "resolve": {"axis": {"x": "independent", "y": "independent"}},
 "layer": [
  {"data": {"values": [{"lo": 41, "hi": 45}]}, "mark": {"type": "rect", "fill": "#cd9cf7"},
   "encoding": {"x": {"datum": 0, "type": "quantitative", "axis": null}, "x2": {"datum": 1200}, "y": {"field": "lo", "type": "quantitative", "axis": null}, "y2": {"field": "hi"}}},
  {"data": {"name": "c_blue"}, "mark": {"type": "line", "color": "#1f22ee", "strokeWidth": 2.5, "strokeJoin": "round"},
   "encoding": {
    "x": {"field": "t", "type": "quantitative", "scale": {"domain": [0, 1200], "nice": false, "zero": false},
      "axis": {"orient": "bottom", "values": [0,200,400,600,800,1000,1200], "format": "d", "labelPadding": 21, "title": "t (sec)", "titleFontSize": 23, "titlePadding": 14, "tickSize": -9}},
    "y": {"field": "T", "type": "quantitative", "scale": {"domain": [20, 70], "nice": false, "zero": false},
      "axis": {"orient": "left", "values": [20,30,40,50,60,70], "labelPadding": 20, "title": null, "tickSize": -9}},
    "detail": {"field": "run", "type": "nominal"}}},
  {"data": {"name": "c_orange"}, "mark": {"type": "line", "color": "#ff4d1a", "strokeWidth": 2.5, "strokeJoin": "round"},
   "encoding": {
    "x": {"field": "t", "type": "quantitative", "axis": {"orient": "top", "values": [0,200,400,600,800,1000,1200], "labels": false, "title": null, "tickSize": -9}},
    "y": {"field": "T", "type": "quantitative", "axis": {"orient": "right", "values": [20,30,40,50,60,70], "labels": false, "title": null, "tickSize": -9}},
    "detail": {"field": "run", "type": "nominal"}}},
  {"data": {"name": "c_red"}, "mark": {"type": "line", "color": "#fa1e1e", "strokeWidth": 2.5, "strokeJoin": "round"},
   "encoding": {
    "x": {"field": "t", "type": "quantitative", "axis": {"orient": "bottom", "values": [100,300,500,700,900,1100], "labels": false, "title": null, "tickSize": -5}},
    "y": {"field": "T", "type": "quantitative", "axis": {"orient": "left", "values": [25,35,45,55,65], "labels": false, "title": null, "tickSize": -5}},
    "detail": {"field": "run", "type": "nominal"}}},
  {"data": {"values": [{"label": "80nm", "t": 119, "T": 66.8}]}, "mark": {"type": "text", "font": "Liberation Sans", "fontWeight": "bold", "fontSize": 25, "color": "#ff1f1f", "align": "center", "baseline": "middle"},
   "encoding": {
    "x": {"field": "t", "type": "quantitative", "axis": {"orient": "top", "values": [100,300,500,700,900,1100], "labels": false, "title": null, "tickSize": -5}},
    "y": {"field": "T", "type": "quantitative", "axis": {"orient": "right", "values": [25,35,45,55,65], "labels": false, "title": null, "tickSize": -5}},
    "text": {"field": "label"}}},
  {"data": {"values": [{"label": "(c)", "t": 115, "T": 63.4}]}, "mark": {"type": "text", "font": "Open Sans", "fontSize": 28, "color": "#111", "align": "center", "baseline": "middle"},
   "encoding": {"x": {"field": "t", "type": "quantitative", "axis": null}, "y": {"field": "T", "type": "quantitative", "axis": null}, "text": {"field": "label"}}}
 ]
}
],
"spacing": 24,
"bounds": "flush"
}
